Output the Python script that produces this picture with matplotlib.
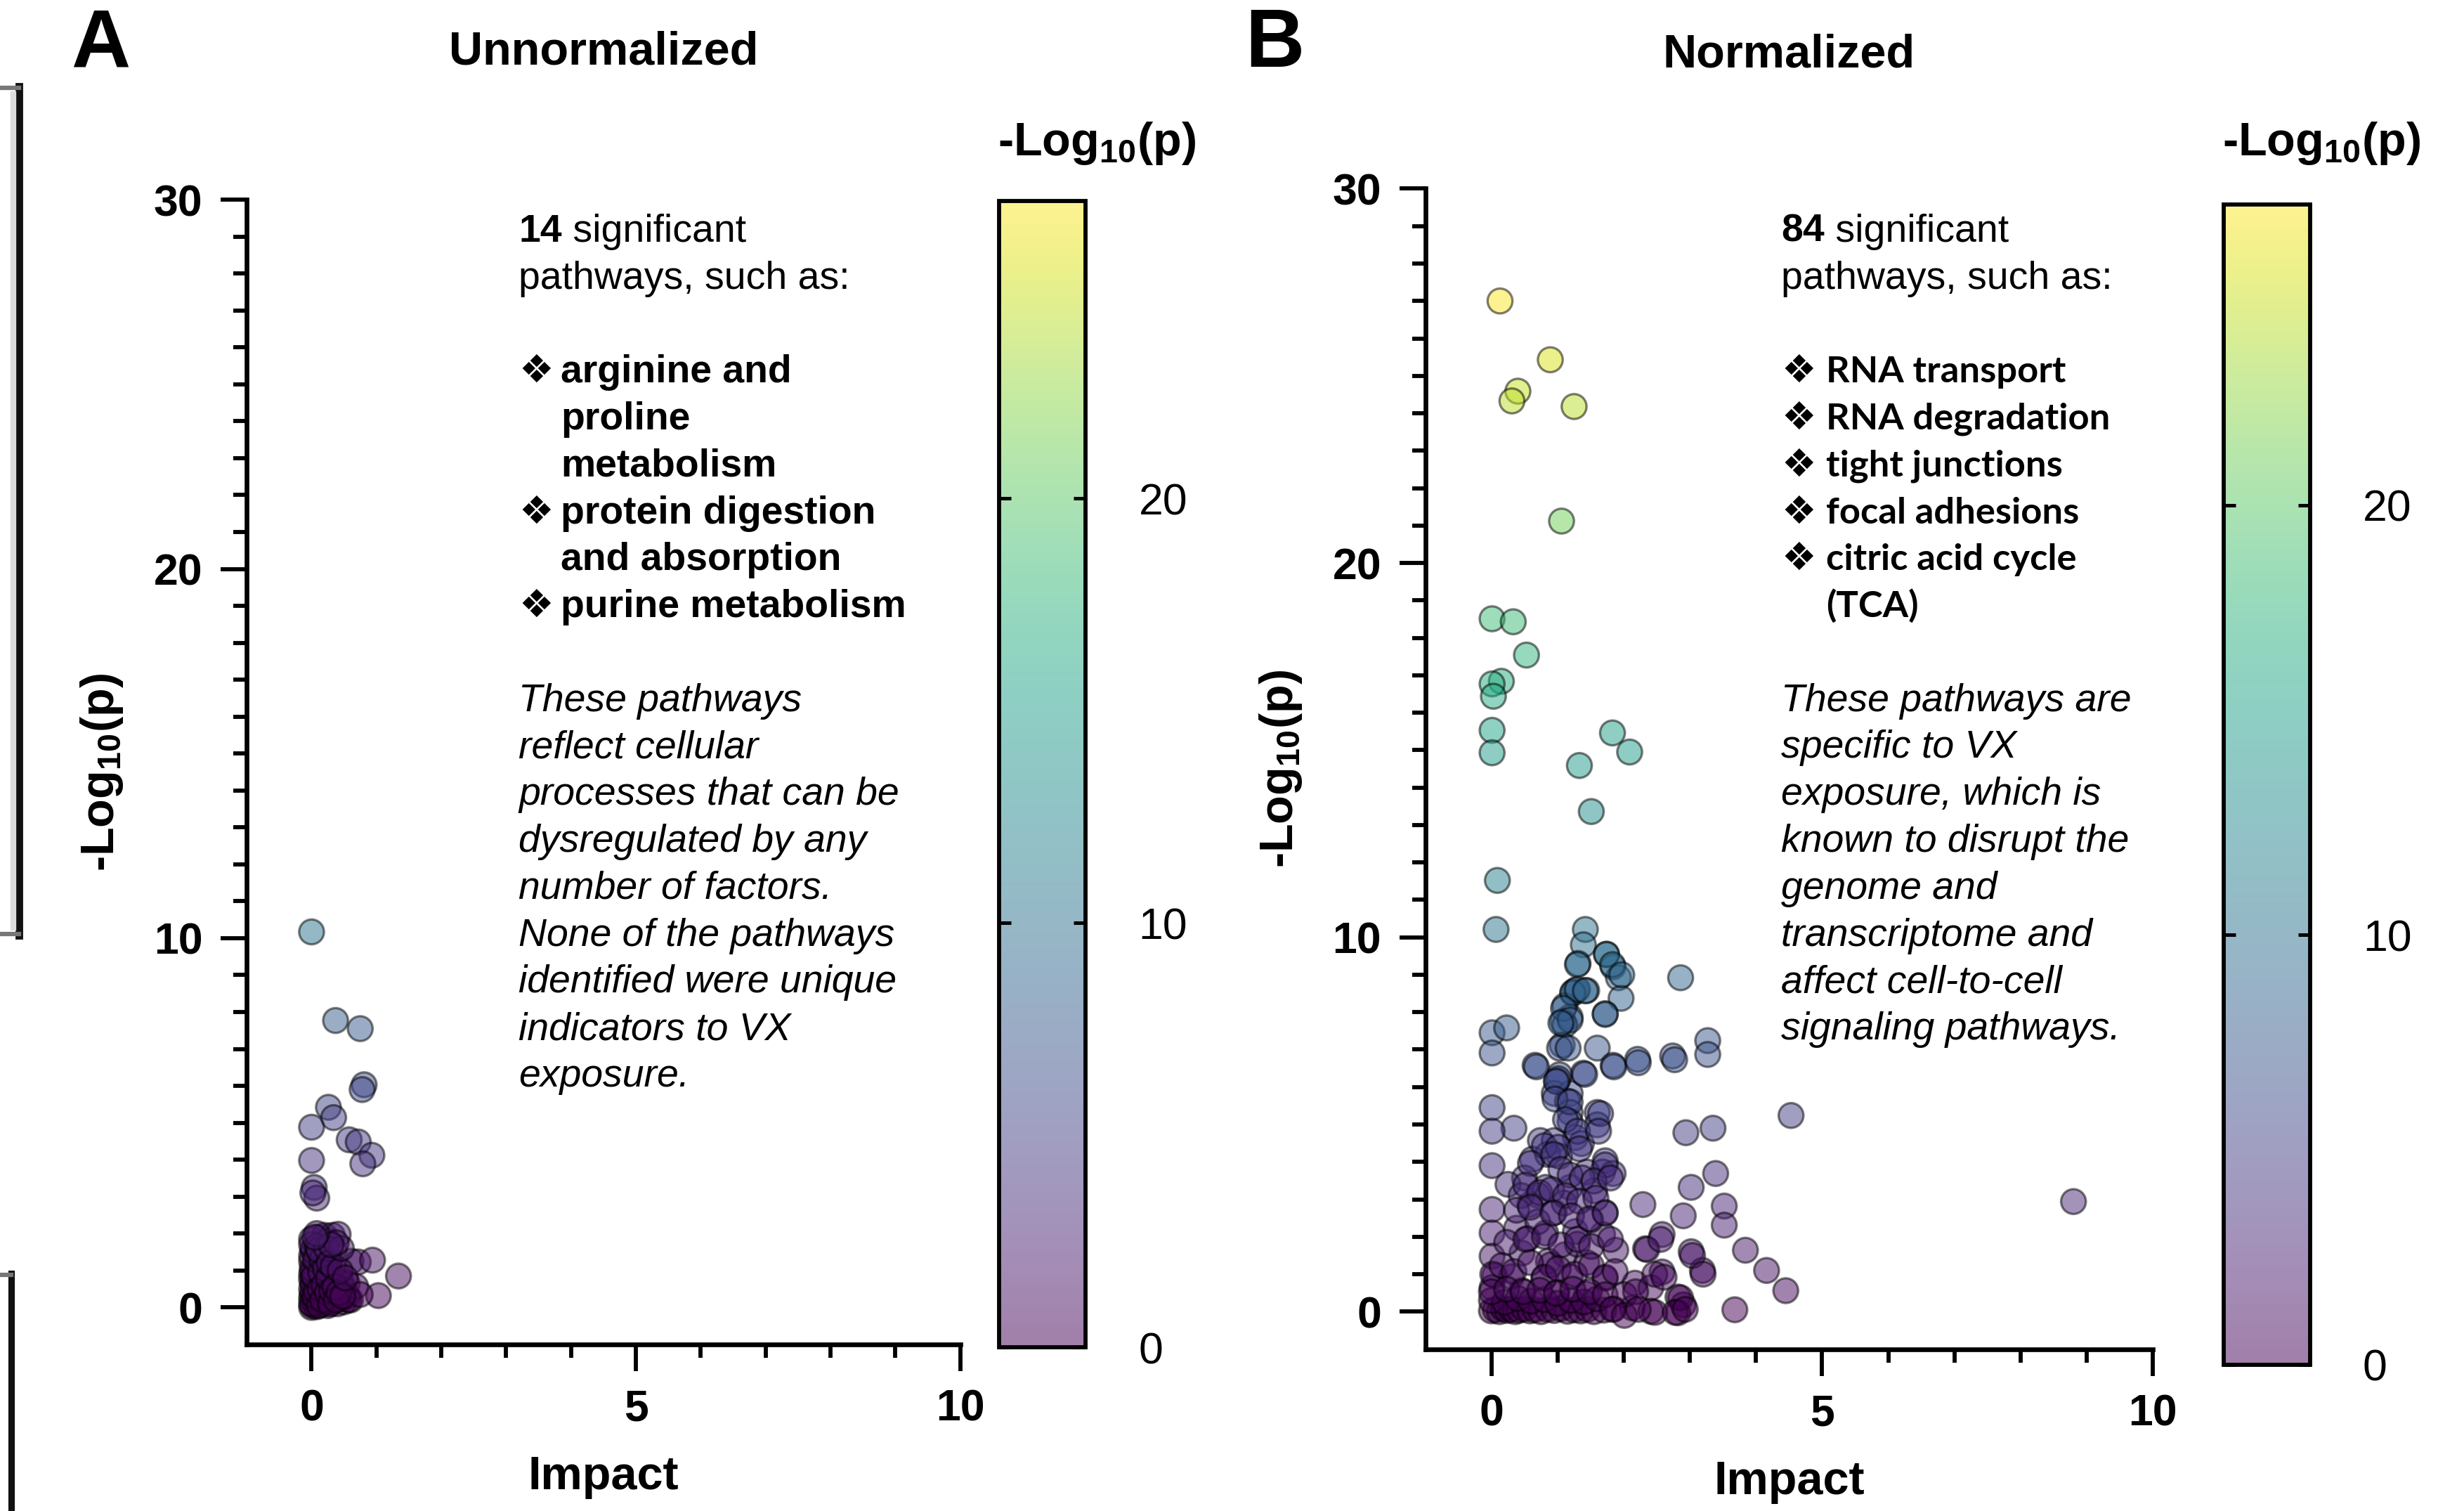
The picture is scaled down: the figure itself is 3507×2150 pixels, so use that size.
import matplotlib
matplotlib.use('Agg')
import matplotlib.pyplot as plt
from matplotlib.lines import Line2D
from matplotlib.ticker import FixedLocator

plt.rcParams['font.family'] = ['Liberation Sans', 'DejaVu Sans']
plt.rcParams['mathtext.fontset'] = 'custom'
plt.rcParams['mathtext.rm'] = 'Liberation Sans'
plt.rcParams['mathtext.bf'] = 'Liberation Sans:bold'
plt.rcParams['mathtext.it'] = 'Liberation Sans:italic'

# ---------------- data ----------------
panel_titles = ['Unnormalized', 'Normalized']
x_label = 'Impact'
y_label = r'-Log$_\mathbf{10}$(p)'
x_ticks = [0, 5, 10]
y_ticks = [0, 10, 20, 30]
cbar_ticks = [0, 10, 20]

# Panel A (unnormalized): pathway impact vs -log10(p)
unnorm_impact = [0.00, 0.37, 0.75, 0.81, 0.78, 0.26, 0.34, 0.00, 0.58, 0.72, 0.93, 0.79, 0.00, 0.04, 0.08, 0.02,
                 0.00, 0.02, 0.05, 0.08, 0.10, 0.12, 0.00, 0.03, 0.06, 0.00, 0.10, 0.15, 0.18, 0.20, 0.25, 0.28,
                 0.30, 0.35, 0.40, 0.45, 0.50, 0.55, 0.60, 0.02, 0.05, 0.00, 0.08, 0.03, 0.00, 0.10, 0.15, 0.20,
                 0.25, 0.32, 0.41, 0.12, 0.18, 0.22, 0.25, 0.30, 0.35, 0.40, 0.45, 0.50, 0.55, 0.20, 0.28, 0.35,
                 0.15, 0.08, 0.61, 0.72, 0.94, 1.34, 1.03, 0.68, 0.57, 0.75,
                 0.00, 0.01, 0.00, 0.02, 0.00, 0.01, 0.00, 0.02, 0.00, 0.05, 0.07, 0.04, 0.06, 0.09, 0.12, 0.13,
                 0.14, 0.16, 0.11, 0.17, 0.19, 0.21, 0.23, 0.24, 0.26, 0.27, 0.29, 0.31, 0.33, 0.36, 0.38, 0.42,
                 0.44, 0.48, 0.52, 0.46, 0.38, 0.30, 0.08, 0.05]
unnorm_logp = [10.17, 7.77, 7.55, 6.03, 5.90, 5.42, 5.14, 4.88, 4.54, 4.48, 4.12, 3.89, 3.98, 3.25, 2.96, 3.10,
               0.00, 0.05, 0.10, 0.02, 0.15, 0.30, 0.25, 0.45, 0.60, 0.75, 0.55, 0.40, 0.10, 0.25, 0.05, 0.35,
               0.15, 0.30, 0.10, 0.25, 0.15, 0.30, 0.20, 0.95, 1.10, 1.25, 1.40, 1.60, 1.85, 1.90, 1.75, 1.95,
               1.80, 1.95, 1.98, 1.15, 0.90, 0.70, 1.05, 0.60, 0.85, 0.55, 0.70, 0.50, 0.65, 1.45, 1.30, 1.55,
               0.65, 0.80, 1.25, 1.23, 1.28, 0.85, 0.32, 0.57, 0.21, 0.35,
               0.10, 0.35, 0.50, 0.65, 0.90, 1.05, 1.40, 1.55, 1.70, 0.30, 0.45, 0.85, 1.30, 1.65, 0.05, 0.50,
               0.95, 1.30, 1.55, 0.20, 0.60, 1.05, 1.60, 0.40, 0.80, 1.20, 0.10, 0.45, 1.10, 0.55, 0.20, 0.40,
               1.00, 0.30, 0.80, 1.60, 1.75, 1.70, 2.00, 1.90]

# Panel B (normalized)
norm_impact = [0.13, 0.89, 0.40, 0.31, 1.25, 1.06, 0.01, 0.33, 0.53, 0.15, 0.01, 0.03, 0.01, 0.01, 1.83, 2.09,
               1.33, 1.51, 0.09,
               0.07, 1.42, 1.39, 1.74, 1.31, 1.84, 1.92, 2.86, 1.27, 1.44, 1.96, 1.23, 1.11, 1.72, 1.19, 1.08,
               1.11, 0.01, 0.23, 0.01, 1.60, 1.07, 1.03, 3.27, 3.27, 2.74, 2.21, 1.84, 0.66, 1.39, 1.03, 0.99,
               0.95, 1.19, 0.01, 1.15, 1.19, 1.60, 0.34, 0.01, 4.53, 3.35, 2.94, 1.19, 1.60, 0.74, 1.27, 0.95,
               1.36, 0.01, 0.62, 1.03, 1.72, 1.68, 1.44, 1.84, 0.50, 0.82, 3.39, 3.02, 1.19, 1.56, 0.70, 2.29,
               8.80, 3.52, 0.01, 0.58, 2.90, 1.72, 0.95, 3.52, 2.58, 0.01, 0.38, 0.82, 1.27, 1.68, 2.33, 1.88,
               3.02, 3.84, 0.01, 0.46, 1.11, 0.86, 1.44, 2.58, 3.19, 4.16, 0.05, 0.30, 0.79, 1.19, 1.72, 2.17,
               2.41, 4.45, 0.01, 0.46, 0.99, 1.44, 2.82, 2.90, 2.82, 2.13, 2.41, 3.68,
               0.00, 0.06, 0.12, 0.18, 0.24, 0.30, 0.36, 0.42, 0.50, 0.58, 0.66, 0.75, 0.85, 0.95, 1.05, 1.15,
               1.25, 1.35, 1.45, 1.55, 1.70, 1.85, 0.00, 0.20, 0.40, 0.60, 0.80, 1.00, 1.20, 1.40, 1.60, 0.90,
               1.30, 0.55, 1.50, 0.70, 1.10, 0.25, 0.45, 0.85,
               1.30, 1.74, 1.83, 1.97, 1.72, 1.23, 1.30, 1.42, 1.09, 1.19, 1.05, 1.16, 0.68, 1.01, 1.41, 1.85,
               2.22, 2.77, 0.98, 0.96, 1.19, 1.65, 1.12, 1.30, 1.62, 0.80, 1.01, 1.33, 0.59, 0.94, 1.72, 1.05,
               1.19, 1.37, 1.55, 1.80, 0.52, 0.73, 0.91, 1.12, 1.33, 1.58, 0.38, 0.59, 0.93, 1.21, 1.48, 1.72,
               0.23, 0.52, 0.80, 1.05, 1.30, 1.51, 1.80, 2.35, 2.56, 3.04, 3.20, 0.02, 0.16, 0.34, 0.59, 0.80,
               1.01, 1.26, 1.51, 1.72, 1.87, 2.47, 2.61, 0.00, 0.23, 0.48, 0.73, 0.98, 1.23, 1.48, 1.72, 2.01,
               2.18, 2.86, 2.47, 2.78, 2.93, 1.83, 2.01, 2.22]
norm_logp = [27.00, 25.43, 24.59, 24.33, 24.18, 21.12, 18.51, 18.43, 17.54, 16.84, 16.77, 16.44, 15.53, 14.93, 15.46, 14.95,
             14.59, 13.36, 11.52,
             10.21, 10.21, 9.80, 9.55, 9.30, 9.21, 8.92, 8.92, 8.58, 8.58, 8.37, 8.50, 8.17, 7.96, 7.87, 7.75,
             7.66, 7.45, 7.58, 6.91, 7.04, 7.12, 7.04, 7.24, 6.87, 6.83, 6.74, 6.58, 6.58, 6.37, 6.33, 6.16,
             5.83, 5.83, 5.45, 5.62, 5.32, 5.32, 4.90, 4.82, 5.24, 4.90, 4.78, 5.07, 4.99, 4.57, 4.65, 4.57,
             4.49, 3.90, 4.07, 4.15, 4.03, 3.73, 3.73, 3.69, 3.57, 3.32, 3.69, 3.32, 3.32, 3.23, 3.11, 2.86,
             2.94, 2.82, 2.73, 2.86, 2.56, 2.65, 2.65, 2.31, 2.06, 2.10, 2.23, 2.10, 2.14, 2.06, 1.68, 1.64,
             1.60, 1.64, 1.48, 1.56, 1.52, 1.35, 1.31, 1.06, 1.10, 1.10, 0.97, 0.93, 0.89, 0.93, 0.89, 0.76,
             0.64, 0.56, 0.64, 0.56, 0.51, 0.47, 0.39, 0.18, -0.03, 0.10, 0.01, 0.05,
             0.02, 0.05, 0.00, 0.08, 0.03, 0.06, 0.00, 0.04, 0.07, 0.02, 0.05, 0.00, 0.06, 0.03, 0.08, 0.01,
             0.05, 0.02, 0.06, 0.00, 0.04, 0.07, 0.30, 0.25, 0.35, 0.28, 0.32, 0.22, 0.30, 0.26, 0.34, 1.25,
             1.80, 1.95, 2.45, 2.40, 2.90, 3.40, 3.10, 4.20,
             9.27, 9.54, 9.27, 9.00, 7.94, 8.53, 8.61, 8.57, 8.10, 7.79, 7.71, 7.04, 6.54, 6.22, 6.34, 6.54,
             6.65, 6.73, 6.15, 5.68, 5.60, 5.29, 5.13, 4.82, 4.82, 4.43, 4.39, 4.35, 3.96, 4.20, 3.92, 3.80,
             3.65, 3.57, 3.49, 3.57, 3.38, 3.18, 3.26, 3.10, 2.95, 3.03, 2.71, 2.79, 2.63, 2.56, 2.48, 2.63,
             1.85, 1.93, 2.01, 1.78, 1.93, 1.74, 1.93, 1.66, 1.93, 1.50, 1.00, 1.00, 1.23, 1.07, 1.31, 0.92,
             1.15, 1.00, 1.23, 0.92, 1.07, 1.00, 0.92, 0.53, 0.60, 0.53, 0.57, 0.49, 0.60, 0.53, 0.45, 0.45,
             0.53, 0.37, -0.02, -0.02, 0.06, 0.06, -0.10, 0.06]

text_a_head = ['14', ' significant', 'pathways, such as:']
text_a_bullets = [['arginine and', 'proline', 'metabolism'], ['protein digestion', 'and absorption'],
                  ['purine metabolism']]
text_a_note = ['These pathways', 'reflect cellular', 'processes that can be', 'dysregulated by any',
               'number of factors.', 'None of the pathways', 'identified were unique', 'indicators to VX',
               'exposure.']
text_b_head = ['84', ' significant', 'pathways, such as:']
text_b_bullets = [['RNA transport'], ['RNA degradation'], ['tight junctions'], ['focal adhesions'],
                  ['citric acid cycle', '(TCA)']]
text_b_note = ['These pathways are', 'specific to VX', 'exposure, which is', 'known to disrupt the',
               'genome and', 'transcriptome and', 'affect cell-to-cell', 'signaling pathways.']

# ---------------- figure ----------------
W, H, DPI = 3507, 2150, 300
fig = plt.figure(figsize=(W / DPI, H / DPI), dpi=DPI)
fig.patch.set_facecolor('white')

RW, RH = 1568.0, 961.0   # reference-layout units


def fx(xd):
    return xd / RW


def fy(yd):
    return 1 - yd / RH


def rect(x0, y0, x1, y1):
    return [fx(x0), fy(y1), fx(x1) - fx(x0), fy(y0) - fy(y1)]


VMIN, VMAX = 0, 27


def make_panel(box, xs, ys, title, title_y, xlab_y, ylab_x):
    ax = fig.add_axes(box)
    sc = ax.scatter(xs, ys, c=ys, cmap='viridis', vmin=VMIN, vmax=VMAX, s=72, alpha=0.5,
                    edgecolors='black', linewidths=0.8, zorder=3, clip_on=False)
    ax.set_xlim(-1, 10)
    ax.set_ylim(-1, 30)
    for s in ['top', 'right']:
        ax.spines[s].set_visible(False)
    for s in ['left', 'bottom']:
        ax.spines[s].set_linewidth(1.6)
    ax.set_xticks(x_ticks, labels=[str(v) for v in x_ticks], fontsize=15, fontweight='bold')
    ax.set_yticks(y_ticks, labels=[str(v) for v in y_ticks], fontsize=15, fontweight='bold')
    ax.xaxis.set_minor_locator(FixedLocator([v for v in range(1, 10) if v != 5]))
    ax.yaxis.set_minor_locator(FixedLocator([v for v in range(1, 30) if v % 10 != 0]))
    ax.tick_params(which='major', length=9, width=1.4, pad=6)
    ax.tick_params(which='minor', length=4.5, width=1.4)
    ax.set_xlabel(x_label, fontsize=16, fontweight='bold')
    ax.xaxis.set_label_coords(0.5, xlab_y)
    ax.xaxis.label.set_verticalalignment('center')
    ax.set_ylabel(y_label, fontsize=16, fontweight='bold')
    ax.yaxis.set_label_coords(ylab_x, 0.5)
    ax.yaxis.label.set_verticalalignment('center')
    ax.set_title(title, fontsize=16, fontweight='bold', y=title_y, va='center', pad=0)
    return ax, sc


axA, scA = make_panel(rect(157, 127, 611, 855), unnorm_impact, unnorm_logp, panel_titles[0],
                      1.129, -0.116, -0.203)
axB, scB = make_panel(rect(907, 120, 1370, 858), norm_impact, norm_logp, panel_titles[1],
                      1.115, -0.115, -0.199)


def make_cbar(sc, box, title_x):
    cax = fig.add_axes(box)
    cb = fig.colorbar(sc, cax=cax)
    cb.set_ticks(cbar_ticks)
    cb.ax.tick_params(direction='in', left=True, right=True, length=4, width=1.2,
                      labelsize=15, pad=18)
    cb.outline.set_linewidth(1.4)
    fig.text(fx(title_x), fy(91), y_label, ha='left', va='center', fontsize=16, fontweight='bold')
    return cb


make_cbar(scA, rect(636, 128, 691, 857), 635)
make_cbar(scB, rect(1415, 130, 1470, 868), 1414)

# panel letters
fig.text(fx(64), fy(29), 'A', fontsize=28, fontweight='bold', ha='center', va='center')
fig.text(fx(811), fy(29), 'B', fontsize=28, fontweight='bold', ha='center', va='center')

# annotation text blocks
FS = 13.3
LS = 29.85
BASE0 = 153.7
BULLET = '\u2756'


def text_block(ax, x0, x_item, head, bullets, note, item_family, item_size):
    t = fig.text(fx(x0), fy(BASE0), head[0], fontsize=FS, fontweight='bold', va='baseline')
    ax.annotate(head[1], xy=(1, 0), xycoords=t, va='bottom', ha='left', fontsize=FS,
                annotation_clip=False)
    fig.text(fx(x0), fy(BASE0 + LS), head[2], fontsize=FS, va='baseline')
    i = 3
    for item in bullets:
        fig.text(fx(x0), fy(BASE0 + i * LS), BULLET, fontsize=FS, va='baseline',
                 family=['DejaVu Sans'])
        for line in item:
            fig.text(fx(x_item), fy(BASE0 + i * LS), line, fontsize=item_size, fontweight='bold',
                     va='baseline', family=item_family)
            i += 1
    i = 10
    for line in note:
        fig.text(fx(x0), fy(BASE0 + i * LS), line, fontsize=FS, style='italic', va='baseline')
        i += 1


text_block(axA, 330, 357, text_a_head, text_a_bullets, text_a_note,
           ['Liberation Sans', 'DejaVu Sans'], FS)
text_block(axB, 1133.5, 1162, text_b_head, text_b_bullets, text_b_note,
           ['Lato', 'DejaVu Sans'], 12.6)

# cropped frame remnants along the left edge
fig.add_artist(Line2D([fx(12), fx(12)], [fy(55), fy(595)], color='#111111', lw=2.6))
fig.add_artist(Line2D([0, fx(12)], [fy(56), fy(56)], color='#777777', lw=1.5))
fig.add_artist(Line2D([0, fx(12)], [fy(594), fy(594)], color='#777777', lw=1.5))
fig.add_artist(Line2D([fx(8.5), fx(8.5)], [fy(60), fy(590)], color='#dddddd', lw=2.0))
fig.add_artist(Line2D([fx(7), fx(7)], [fy(810), fy(961)], color='#111111', lw=2.2))
fig.add_artist(Line2D([0, fx(7)], [fy(811), fy(811)], color='#777777', lw=1.5))

fig.savefig('out.png', dpi=DPI, facecolor='white')
